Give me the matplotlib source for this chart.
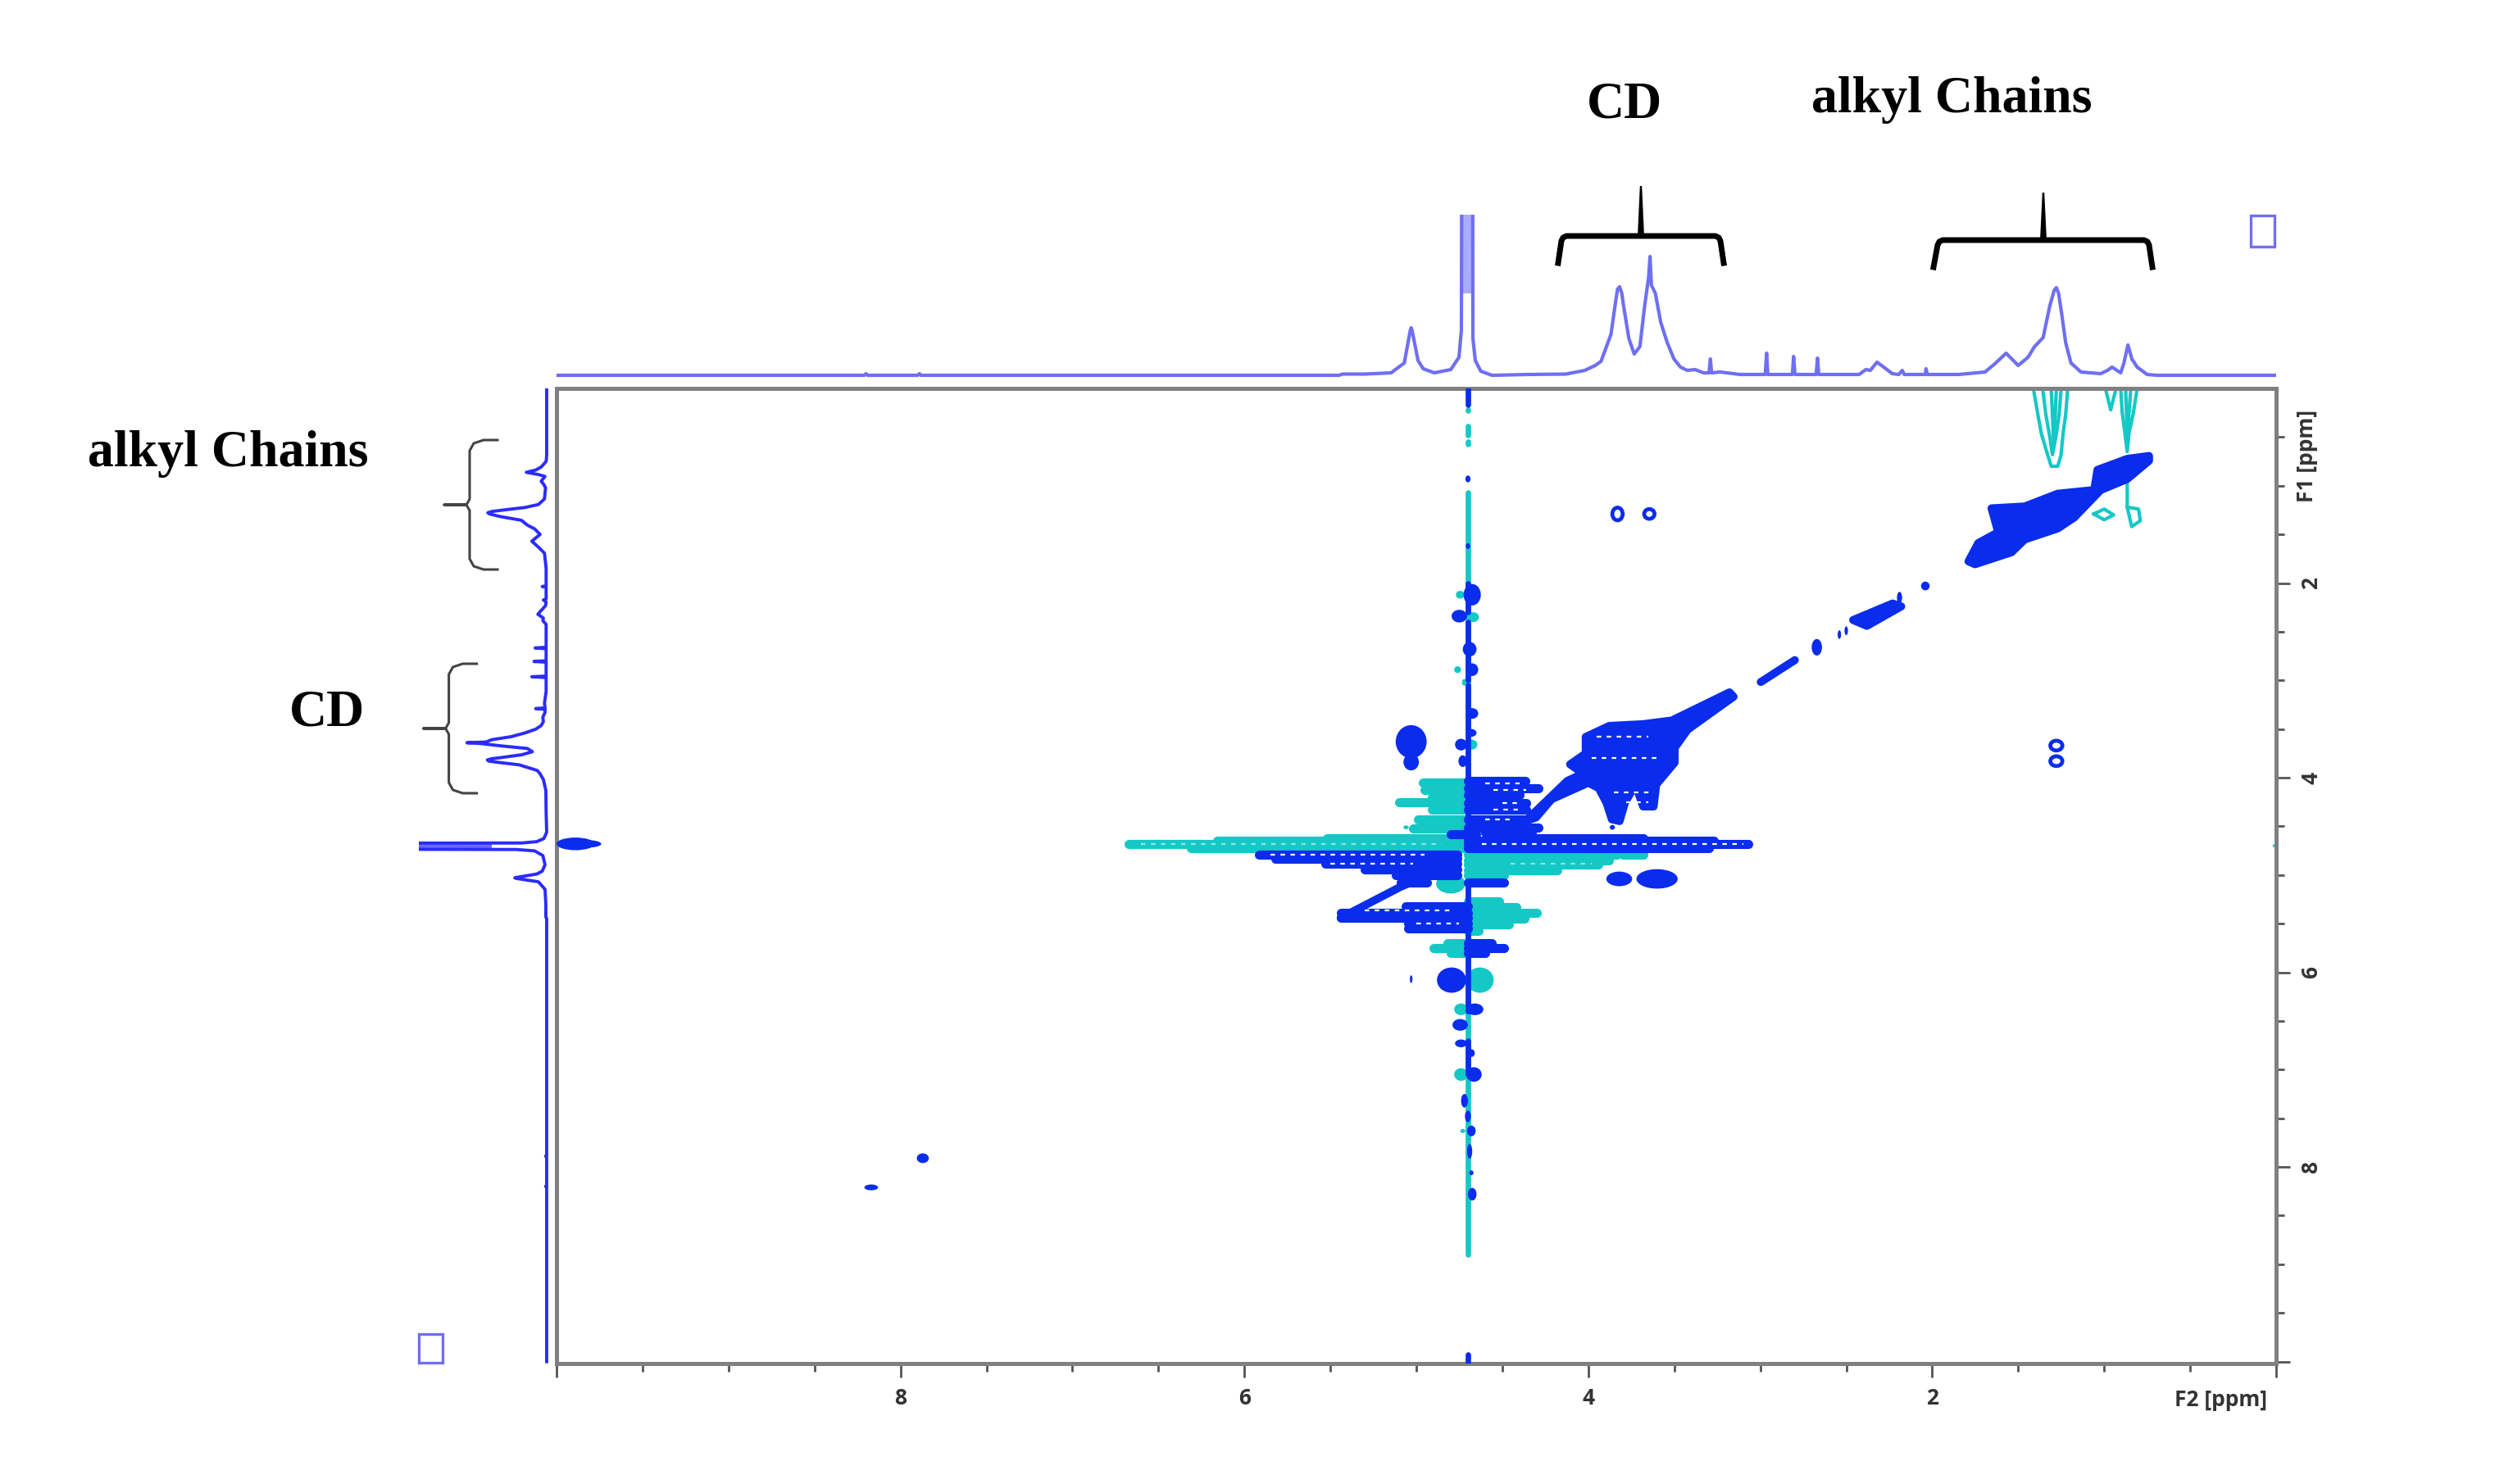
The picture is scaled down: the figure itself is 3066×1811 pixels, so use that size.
import matplotlib
matplotlib.use("Agg")
import matplotlib.pyplot as plt
from matplotlib.patches import Ellipse, Rectangle

plt.rcParams["font.family"] = ["Open Sans", "DejaVu Sans"]
plt.rcParams["font.weight"] = "bold"

BLUE = "#0a2ced"
TEAL = "#14c8c6"
TOP_TRACE = "#6f6ff2"
TOP_BAND = "#aaaaff"
LEFT_TRACE = "#2b2bff"
LEFT_BAND = "#6a6aff"
W, H = 3066, 1811

# ---- 1D projection: chemical shift (ppm) and height ----
shift = [10.0, 8.21, 8.2, 8.19, 7.9, 7.89, 7.88, 5.45, 5.43, 5.3, 5.147, 5.07, 5.05, 5.035, 5.03, 5.025, 4.99,
         4.96, 4.895, 4.80, 4.752, 4.738, 4.728, 4.676, 4.671, 4.657, 4.625, 4.56, 4.35, 4.13, 4.02, 3.96, 3.926,
         3.868, 3.841, 3.83, 3.818, 3.805, 3.795, 3.764, 3.733, 3.70, 3.672, 3.649, 3.641, 3.633, 3.610, 3.579,
         3.541, 3.502, 3.464, 3.425, 3.379, 3.329, 3.298, 3.29, 3.283, 3.233, 3.117, 2.971, 2.963, 2.956, 2.813,
         2.806, 2.798, 2.675, 2.667, 2.66, 2.425, 2.386, 2.36, 2.321, 2.282, 2.232, 2.194, 2.174, 2.163, 2.04,
         2.036, 2.028, 1.847, 1.693, 1.636, 1.57, 1.50, 1.443, 1.405, 1.355, 1.316, 1.29, 1.278, 1.265, 1.247,
         1.224, 1.193, 1.135, 1.02, 0.981, 0.954, 0.904, 0.885, 0.862, 0.839, 0.808, 0.75, 0.69, 0.0]
height = [0, 0, 2, 0, 0, 2, 0, 0, 1.5, 1.5, 3, 15, 38, 55, 58, 55, 18,
          8, 3, 7, 22, 55, 1000, 1000, 45, 18, 5, 0, 1, 1.5, 6, 12, 17,
          50, 90, 105, 108, 100, 85, 45, 26, 35, 85, 120, 145, 110, 100, 65,
          40, 20, 10, 6, 7, 3, 3, 20, 3, 4, 1, 1, 27, 1, 1,
          23, 1, 1, 21, 1, 1, 7, 6, 16, 10, 2, 1, 6, 1, 1,
          8, 1, 1, 4, 14, 27, 12, 22, 35, 46, 85, 104, 107, 100, 75,
          40, 15, 4, 2, 6, 10, 3, 15, 37, 20, 10, 1, 0, 0]
hdo_band_from = 4.728
hdo_band_to = 4.676
hdo_band_start = 100

# ---- 2D contour regions (ppm) ----
teal_row_f1 = [4.05, 4.13, 4.20, 4.25, 4.33, 4.43, 4.52, 4.62, 4.65, 4.68, 4.72,
               5.27, 5.33, 5.39, 5.45, 5.51, 5.57, 4.79, 4.85, 4.89, 4.95, 5.00,
               5.70, 5.75, 5.80, 4.79]
teal_row_from = [4.96, 4.95, 4.91, 5.10, 4.91, 4.99, 5.02, 5.52, 6.16, 6.675, 6.31,
                 4.70, 4.70, 4.70, 4.70, 4.70, 4.70, 4.70, 4.70, 4.70, 4.70, 4.70,
                 4.82, 4.90, 4.80, 3.80]
teal_row_to = [4.70, 4.70, 4.70, 4.70, 4.70, 4.70, 4.70, 4.70, 4.70, 4.70, 4.70,
               4.52, 4.42, 4.30, 4.37, 4.46, 4.64, 3.83, 3.88, 3.94, 4.18, 4.49,
               4.70, 4.70, 4.70, 3.68]

blue_row_f1 = [4.03, 4.11, 4.18, 4.26, 4.33, 4.43, 4.51, 4.56, 4.62, 4.65, 4.68, 4.72,
               4.79, 4.83, 4.88, 4.94, 5.00, 5.08, 5.08, 5.32, 5.39, 5.44, 5.50, 5.55,
               5.70, 5.75, 5.80, 4.58]
blue_row_from = [4.70, 4.70, 4.70, 4.70, 4.70, 4.70, 4.70, 4.60, 4.456, 4.70, 4.70, 4.70,
                 5.915, 5.82, 5.53, 5.30, 5.12, 5.09, 4.70, 5.06, 5.44, 5.44, 5.05, 5.05,
                 4.70, 4.70, 4.70, 4.80]
blue_row_to = [4.365, 4.29, 4.40, 4.36, 4.36, 4.36, 4.29, 4.33, 3.68, 3.27, 3.07, 3.30,
               4.76, 4.76, 4.76, 4.76, 4.76, 4.94, 4.49, 4.70, 4.70, 4.70, 4.70, 4.70,
               4.56, 4.49, 4.60, 4.65]

blue_ell_f2 = [5.03, 5.03, 3.82, 3.60, 8.17, 7.87, 2.04, 2.19, 2.671, 2.54, 2.50, 3.86,
               4.675, 4.75, 4.69, 4.675, 4.675, 4.68, 4.74, 4.73,
               4.795, 5.03, 4.66, 4.745, 4.74, 4.68, 4.665, 4.72, 4.70, 4.68, 4.69, 4.68, 4.675,
               9.89, 9.83, 4.70, 4.70]
blue_ell_f1 = [3.63, 3.84, 5.04, 5.04, 8.21, 7.91, 2.03, 2.15, 2.66, 2.53, 2.49, 4.51,
               2.12, 2.34, 2.68, 2.89, 3.34, 3.54, 3.66, 3.83,
               6.08, 6.07, 6.38, 6.54, 6.73, 6.83, 7.05, 7.32, 7.48, 7.63, 7.84, 8.06, 8.28,
               4.68, 4.68, 0.93, 1.62]
blue_ell_w = [0.18, 0.09, 0.15, 0.24, 0.08, 0.07, 0.05, 0.03, 0.06, 0.02, 0.02, 0.03,
              0.10, 0.09, 0.08, 0.07, 0.07, 0.06, 0.07, 0.05,
              0.17, 0.015, 0.10, 0.09, 0.07, 0.04, 0.09, 0.04, 0.035, 0.05, 0.03, 0.025, 0.05,
              0.22, 0.18, 0.03, 0.025]
blue_ell_h = [0.34, 0.17, 0.15, 0.20, 0.06, 0.10, 0.09, 0.12, 0.17, 0.09, 0.09, 0.05,
              0.22, 0.13, 0.15, 0.13, 0.11, 0.08, 0.12, 0.12,
              0.26, 0.08, 0.12, 0.12, 0.08, 0.08, 0.15, 0.14, 0.12, 0.11, 0.15, 0.05, 0.13,
              0.13, 0.08, 0.07, 0.06]

blue_ring_f2 = [3.83, 3.645, 1.278, 1.278]
blue_ring_f1 = [1.29, 1.29, 3.67, 3.83]
blue_ring_w = [0.06, 0.06, 0.07, 0.07]
blue_ring_h = [0.13, 0.10, 0.10, 0.10]

teal_ell_f2 = [5.06, 4.80, 4.745, 4.67, 4.76, 4.63, 4.74, 4.675, 4.72, 4.74, 4.73, 0.01]
teal_ell_f1 = [4.51, 5.09, 2.12, 2.35, 2.89, 6.08, 6.38, 3.66, 3.02, 7.05, 7.63, 4.70]
teal_ell_w = [0.03, 0.17, 0.05, 0.07, 0.04, 0.16, 0.08, 0.06, 0.03, 0.08, 0.03, 0.02]
teal_ell_h = [0.04, 0.20, 0.08, 0.10, 0.07, 0.26, 0.12, 0.10, 0.07, 0.13, 0.04, 0.03]

cd_blob_f2 = [4.365, 4.122, 4.030, 4.106, 4.015, 4.015, 3.878, 3.681, 3.514, 3.179, 3.155, 3.422, 3.498, 3.498,
              3.605, 3.620, 3.681, 3.726, 3.787, 3.818, 3.863, 3.894, 3.939, 4.000, 4.213, 4.304]
cd_blob_f1 = [4.446, 4.033, 3.957, 3.863, 3.751, 3.581, 3.468, 3.450, 3.412, 3.123, 3.168, 3.506, 3.694, 3.845,
              4.070, 4.296, 4.296, 4.070, 4.258, 4.446, 4.428, 4.258, 4.108, 4.052, 4.221, 4.409]
alkyl_blob_f2 = [1.789, 1.732, 1.616, 1.655, 1.462, 1.270, 1.058, 1.039, 0.866, 0.739, 0.739, 0.866, 1.020,
                 1.174, 1.270, 1.462, 1.539, 1.751]
alkyl_blob_f1 = [1.777, 1.589, 1.477, 1.232, 1.213, 1.082, 1.044, 0.837, 0.724, 0.694, 0.743, 0.931, 1.044,
                 1.326, 1.439, 1.552, 1.684, 1.807]
small_blob_f2 = [2.46, 2.23, 2.18, 2.38]
small_blob_f1 = [2.38, 2.21, 2.24, 2.44]

diag_f2 = [[5.44, 5.09, 4.90], [2.997, 2.799]]
diag_f1 = [[5.44, 5.12, 4.98], [3.017, 2.792]]

teal_open_f2 = [[1.412, 1.385, 1.366, 1.328, 1.308, 1.270, 1.251, 1.239, 1.224, 1.212],
                [1.358, 1.339, 1.316, 1.301, 1.281, 1.262, 1.25],
                [1.308, 1.30, 1.293, 1.285, 1.278],
                [0.904, 0.895, 0.880, 0.866, 0.855, 0.83, 0.808],
                [0.875, 0.866, 0.845],
                [0.993, 0.962, 0.931],
                [0.866, 0.866, 0.80, 0.79, 0.84, 0.866],
                [1.06, 1.0, 0.945, 1.0, 1.06]]
teal_open_f1 = [[0.0, 0.273, 0.461, 0.687, 0.80, 0.80, 0.687, 0.461, 0.273, 0.0],
                [0.0, 0.27, 0.50, 0.68, 0.50, 0.27, 0.0],
                [0.0, 0.30, 0.60, 0.30, 0.0],
                [0.0, 0.25, 0.45, 0.65, 0.45, 0.25, 0.0],
                [0.0, 0.50, 0.0],
                [0.0, 0.22, 0.0],
                [0.93, 1.22, 1.24, 1.36, 1.42, 1.22],
                [1.29, 1.24, 1.30, 1.35, 1.29]]

teal_axis_f1 = [[0.22, 0.23], [0.39, 0.48], [0.55, 0.57], [1.07, 8.9]]
blue_axis_f1 = [[0.0, 0.17], [2.0, 2.3], [2.4, 3.0], [3.05, 4.6], [5.1, 5.3], [5.55, 5.75], [5.85, 6.4],
                [6.7, 7.05], [9.93, 10.02]]

speck_f1 = [4.68, 4.79, 4.88, 4.06, 4.13, 4.26, 4.33, 4.43, 5.36, 5.50, 3.58, 3.80, 4.15, 4.25]
speck_from = [4.62, 5.85, 5.50, 4.60, 4.55, 4.50, 4.55, 4.60, 5.30, 5.00, 3.95, 3.98, 3.85, 3.78]
speck_to = [3.10, 4.95, 5.02, 4.40, 4.36, 4.40, 4.40, 4.45, 4.80, 4.75, 3.65, 3.60, 3.62, 3.65]
teal_speck_f1 = [4.68, 4.88]
teal_speck_from = [6.6, 4.45]
teal_speck_to = [4.85, 3.98]

f2_major = [10, 8, 6, 4, 2, 0]
f2_labels = ["", "8", "6", "4", "2", ""]
f1_major = [2, 4, 6, 8, 10]
f1_labels = ["2", "4", "6", "8", ""]
f2_minor = [9.5, 9, 8.5, 7.5, 7, 6.5, 5.5, 5, 4.5, 3.5, 3, 2.5, 1.5, 1, 0.5]
f1_minor = [0.5, 1, 1.5, 2.5, 3, 3.5, 4.5, 5, 5.5, 6.5, 7, 7.5, 8.5, 9, 9.5]


def box(left, top, right, bottom):
    return [left / W, 1 - bottom / H, (right - left) / W, (bottom - top) / H]


fig = plt.figure(figsize=(W / 100, H / 100), dpi=100, facecolor="white")

# main 2D axes
ax = fig.add_axes(box(679, 474, 2777, 1664))
ax.set_xlim(10, 0)
ax.set_ylim(10.02, 0)
for s in ax.spines.values():
    s.set_color("#808080")
    s.set_linewidth(3.6)
ax.yaxis.tick_right()
ax.set_xticks(f2_major, f2_labels)
ax.set_yticks(f1_major, f1_labels)
ax.set_xticks(f2_minor, minor=True)
ax.set_yticks(f1_minor, minor=True)
ax.tick_params(which="major", length=12, width=2, color="#555555", labelsize=19, labelcolor="#333333", pad=9)
ax.tick_params(which="minor", length=7, width=2, color="#555555")
for lab in ax.get_yticklabels():
    lab.set_rotation(90)
    lab.set_va("center")

ax.hlines(teal_row_f1, teal_row_from, teal_row_to, color=TEAL, lw=8, capstyle="round", zorder=2)
for seg in teal_axis_f1:
    ax.plot([4.70, 4.70], seg, color=TEAL, lw=4.8, solid_capstyle="round", zorder=2)
for x, y, w, h in zip(teal_ell_f2, teal_ell_f1, teal_ell_w, teal_ell_h):
    ax.add_patch(Ellipse((x, y), w, h, color=TEAL, lw=0, zorder=2))
for xs, ys in zip(teal_open_f2, teal_open_f1):
    ax.plot(xs, ys, color=TEAL, lw=3, zorder=2)
ax.hlines(teal_speck_f1, teal_speck_from, teal_speck_to, color="#8fe6e3", lw=1.6, linestyles=(0, (2.5, 3)), zorder=2.5)

ax.hlines(blue_row_f1, blue_row_from, blue_row_to, color=BLUE, lw=8, capstyle="round", zorder=3)
for seg in blue_axis_f1:
    ax.plot([4.70, 4.70], seg, color=BLUE, lw=4.8, solid_capstyle="round", zorder=3)
for x, y, w, h in zip(blue_ell_f2, blue_ell_f1, blue_ell_w, blue_ell_h):
    ax.add_patch(Ellipse((x, y), w, h, color=BLUE, lw=0, zorder=3))
for x, y, w, h in zip(blue_ring_f2, blue_ring_f1, blue_ring_w, blue_ring_h):
    ax.add_patch(Ellipse((x, y), w, h, fill=False, ec=BLUE, lw=3.4, zorder=3))
for xs, ys in [(cd_blob_f2, cd_blob_f1), (alkyl_blob_f2, alkyl_blob_f1), (small_blob_f2, small_blob_f1)]:
    ax.fill(xs, ys, fc=BLUE, ec=BLUE, lw=7, joinstyle="round", zorder=3)
for xs, ys in zip(diag_f2, diag_f1):
    ax.plot(xs, ys, color=BLUE, lw=7, solid_capstyle="round", zorder=3)
ax.hlines(speck_f1, speck_from, speck_to, color="white", lw=1.6, linestyles=(0, (2.5, 3)), zorder=4)

# top 1D projection
top = fig.add_axes(box(679, 262, 2777, 463))
top.set_xlim(10, 0)
top.set_ylim(-5, 196)
top.axis("off")
top.fill_between([hdo_band_from, hdo_band_to], hdo_band_start, 1000, color=TOP_BAND, lw=0)
top.plot(shift, height, color=TOP_TRACE, lw=3, solid_joinstyle="round")

# left 1D projection
left = fig.add_axes(box(511, 474, 672, 1664))
left.set_xlim(232.5, -7.5)
left.set_ylim(10.02, 0)
left.axis("off")
left.fill_betweenx([hdo_band_from, hdo_band_to], hdo_band_start, 1000, color=LEFT_BAND, lw=0)
left.plot(height, shift, color=LEFT_TRACE, lw=2.8, solid_joinstyle="round")

# annotations in figure pixels
ov = fig.add_axes([0, 0, 1, 1], zorder=10)
ov.set_xlim(0, W)
ov.set_ylim(H, 0)
ov.axis("off")
ov.patch.set_alpha(0)
serif = dict(family="Liberation Serif", weight="bold", size=46, color="black", ha="center", va="center")
ov.text(1982, 129, "CD", **serif)
ov.text(2381, 122, "alkyl Chains", **serif)
ov.text(278, 554, "alkyl Chains", **serif)
ov.text(399, 871, "CD", **serif)
ov.text(2710, 1708, "F2 [ppm]", size=19, color="#333333", ha="center", va="center")
ov.text(2814, 556, "F1 [ppm]", size=19, color="#333333", ha="center", va="center", rotation=90)

for x0, x1, x2, x3, xm, yb, yt, ytip in [(1901, 1905, 2099, 2103, 2002, 321, 288, 227),
                                         (2359, 2364, 2622, 2626, 2493, 326, 293, 235)]:
    ov.plot([x0, x1, x1 + 2, x1 + 6, x2 - 6, x2 - 2, x2, x3],
            [yb, yt + 6, yt + 2, yt, yt, yt + 2, yt + 6, yb], color="black", lw=5, solid_joinstyle="round")
    ov.fill([xm - 4, xm + 4, xm + 1.2, xm - 1.2], [yt, yt, ytip, ytip], color="black", lw=0)

for dx, dy in [(0, 0), (-25.4, 273)]:
    ov.plot([607 + dx, 590 + dx, 578 + dx, 573 + dx, 573 + dx, 569 + dx, 542 + dx, 569 + dx, 573 + dx, 573 + dx,
             578 + dx, 590 + dx, 607 + dx],
            [537 + dy, 537 + dy, 541 + dy, 550 + dy, 609 + dy, 616 + dy, 616 + dy, 616 + dy, 623 + dy, 682 + dy,
             691 + dy, 695 + dy, 695 + dy],
            color="#444444", lw=2.2, solid_joinstyle="round")

ov.add_patch(Rectangle((2746, 263), 29, 38, fill=False, ec=TOP_TRACE, lw=2.4))
ov.add_patch(Rectangle((511, 1628), 29, 35, fill=False, ec=TOP_TRACE, lw=2.4))

fig.savefig("out.png", dpi=100, facecolor="white")
